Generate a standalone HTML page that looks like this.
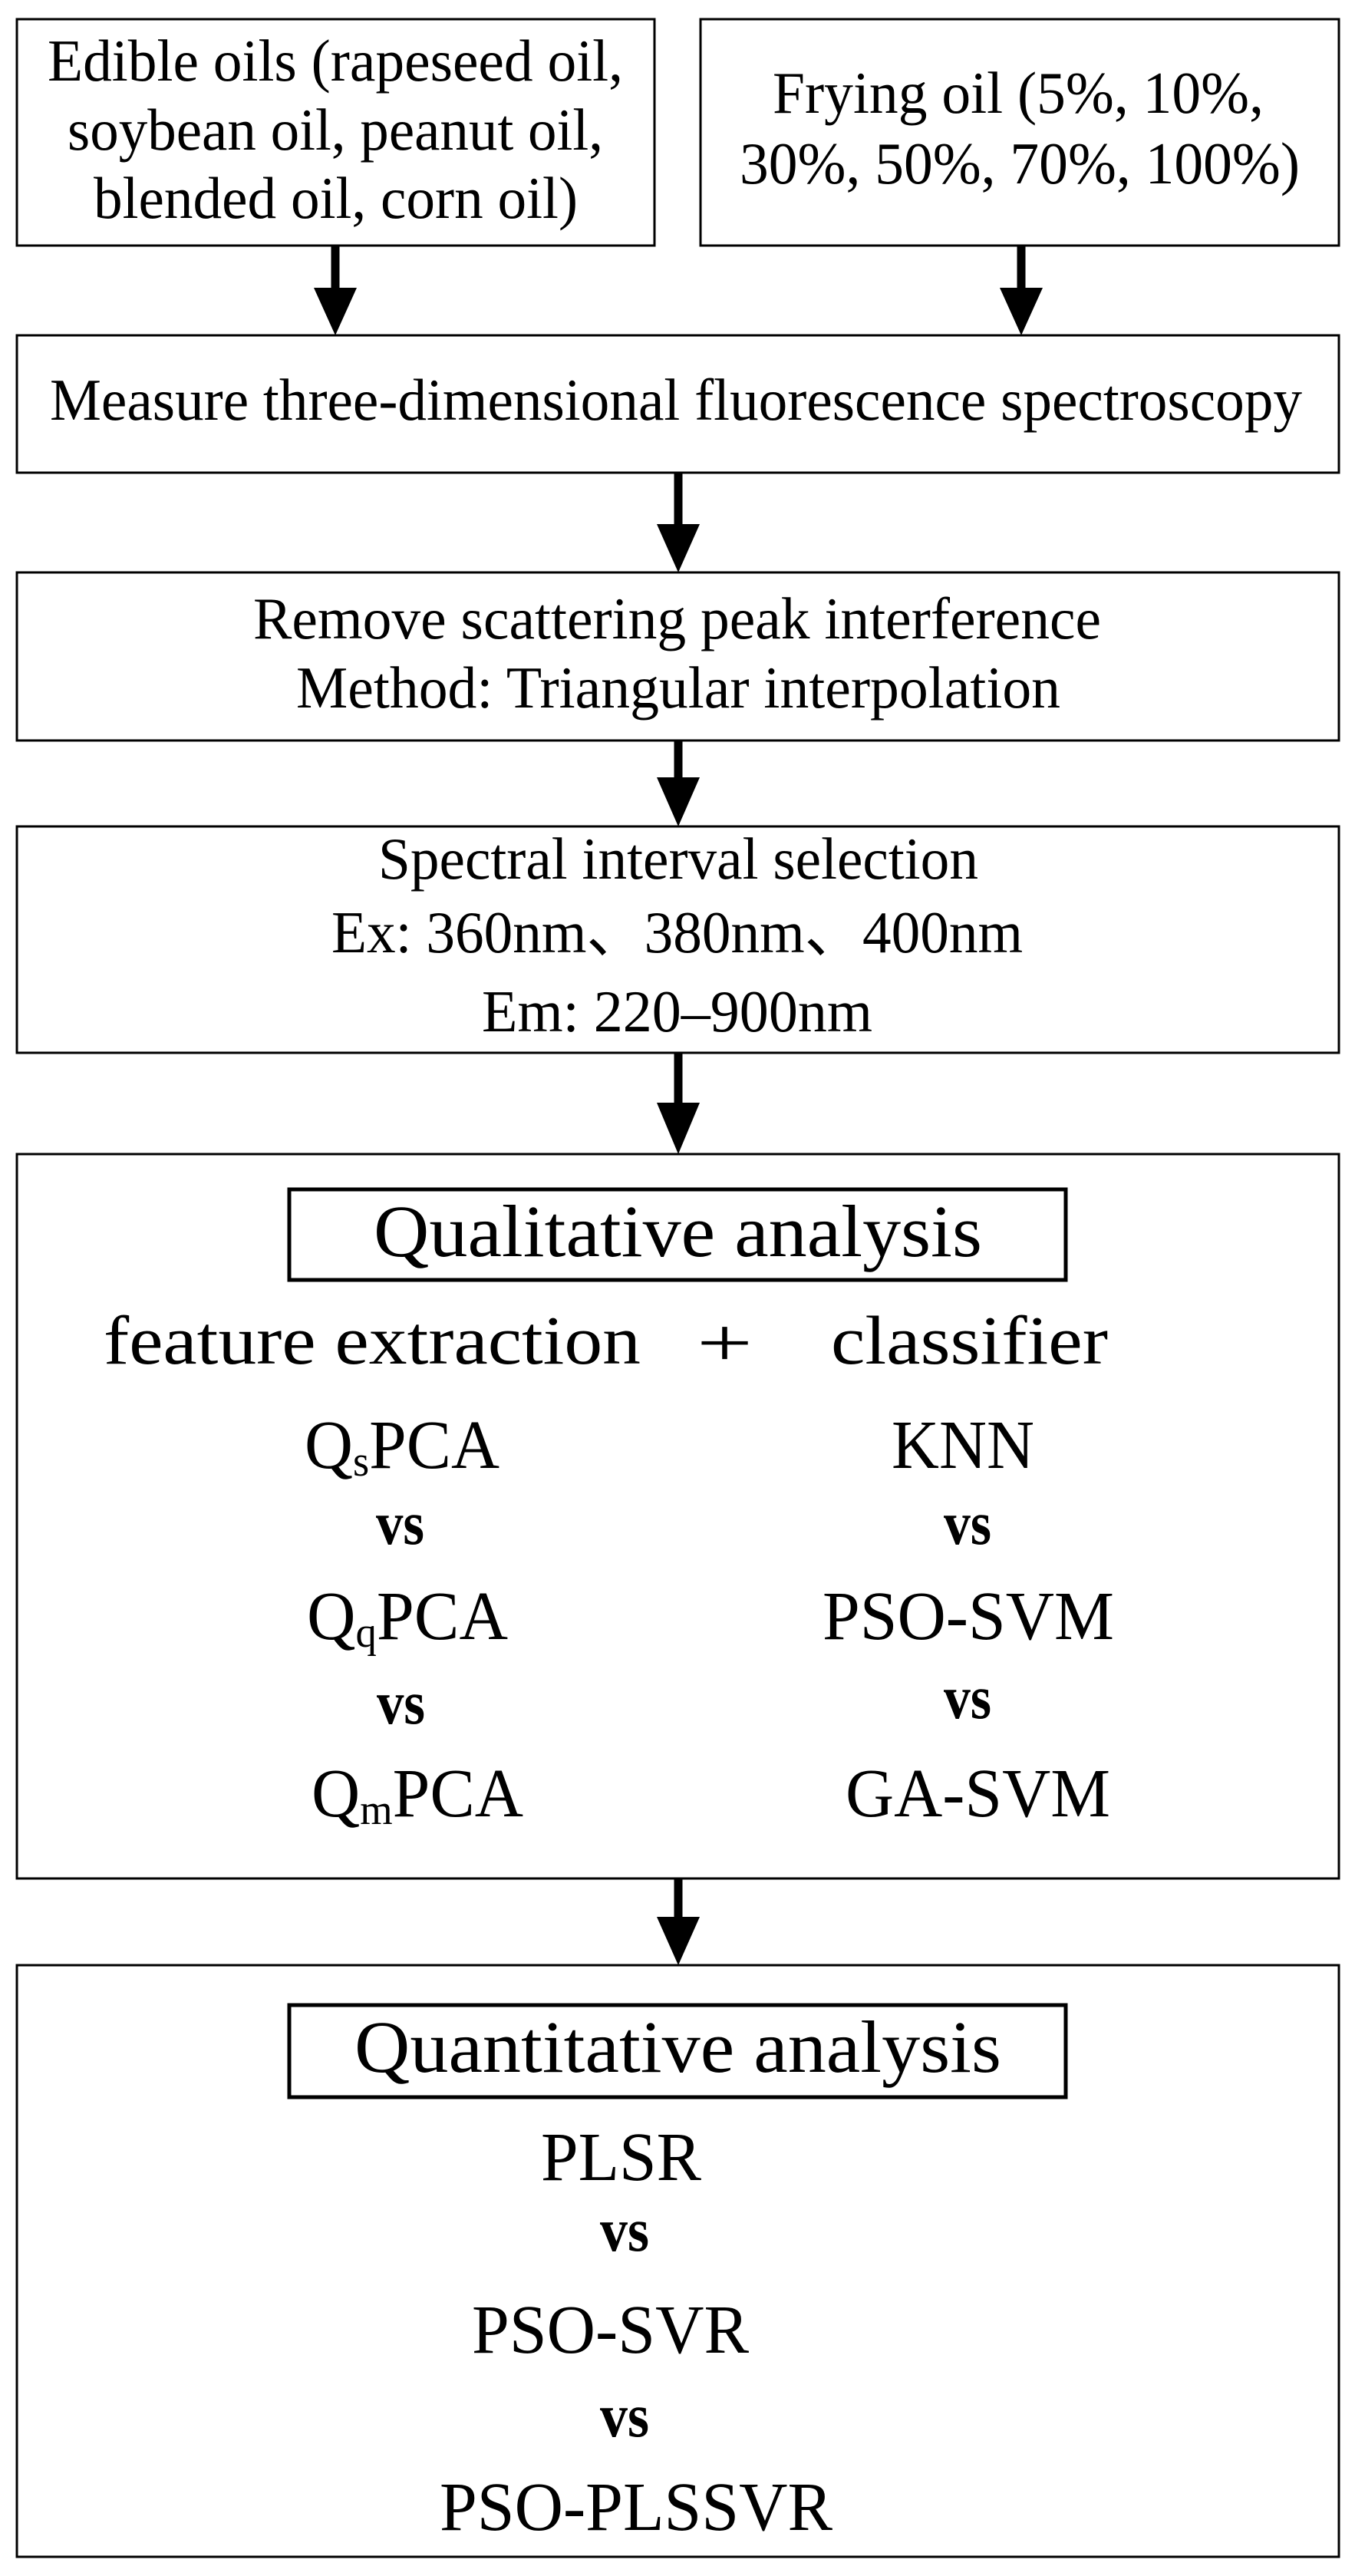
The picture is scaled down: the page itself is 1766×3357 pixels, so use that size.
<!DOCTYPE html>
<html><head><meta charset="utf-8"><style>html,body{margin:0;padding:0;background:#fff}svg{display:block}</style></head>
<body>
<svg width="1766" height="3357" viewBox="0 0 1766 3357" xmlns="http://www.w3.org/2000/svg" font-family="'Liberation Serif', serif" fill="#000">
<g fill="none" stroke="#000" stroke-width="3">
<rect x="22" y="25" width="831" height="295"/>
<rect x="913" y="25" width="832" height="295"/>
<rect x="22" y="437" width="1723" height="179"/>
<rect x="22" y="746" width="1723" height="219"/>
<rect x="22" y="1077" width="1723" height="295"/>
<rect x="22" y="1504" width="1723" height="944"/>
<rect x="377" y="1550" width="1012" height="118" stroke-width="5"/>
<rect x="22" y="2561" width="1723" height="771"/>
<rect x="377" y="2613" width="1012" height="120" stroke-width="5"/>
</g>
<g stroke="#000" stroke-width="11">
<line x1="437" y1="320" x2="437" y2="380"/>
<line x1="1331" y1="320" x2="1331" y2="380"/>
<line x1="884" y1="616" x2="884" y2="688"/>
<line x1="884" y1="965" x2="884" y2="1018"/>
<line x1="884" y1="1372" x2="884" y2="1442"/>
<line x1="884" y1="2448" x2="884" y2="2503"/>
</g>
<polygon points="409,375 465,375 437,437"/>
<polygon points="1303,375 1359,375 1331,437"/>
<polygon points="856,683 912,683 884,746"/>
<polygon points="856,1013 912,1013 884,1077"/>
<polygon points="856,1437 912,1437 884,1504"/>
<polygon points="856,2498 912,2498 884,2561"/>
<g font-size="77">
<text x="62" y="105" textLength="750" lengthAdjust="spacingAndGlyphs">Edible oils (rapeseed oil,</text>
<text x="88" y="195" textLength="698" lengthAdjust="spacingAndGlyphs">soybean oil, peanut oil,</text>
<text x="122" y="284" textLength="631" lengthAdjust="spacingAndGlyphs">blended oil, corn oil)</text>
<text x="1007" y="147" textLength="640" lengthAdjust="spacingAndGlyphs">Frying oil (5%, 10%,</text>
<text x="964" y="239" textLength="730" lengthAdjust="spacingAndGlyphs">30%, 50%, 70%, 100%)</text>
<text x="65" y="547" textLength="1632" lengthAdjust="spacingAndGlyphs">Measure three-dimensional fluorescence spectroscopy</text>
<text x="330" y="832" textLength="1105" lengthAdjust="spacingAndGlyphs">Remove scattering peak interference</text>
<text x="386" y="922" textLength="996" lengthAdjust="spacingAndGlyphs">Method: Triangular interpolation</text>
<text x="493" y="1145" textLength="782" lengthAdjust="spacingAndGlyphs">Spectral interval selection</text>
<text x="432" y="1241" textLength="901" lengthAdjust="spacingAndGlyphs">Ex: 360nm、380nm、400nm</text>
<text x="628" y="1344" textLength="509" lengthAdjust="spacingAndGlyphs">Em: 220–900nm</text>
</g>
<text x="487" y="1637" font-size="96" textLength="793" lengthAdjust="spacingAndGlyphs">Qualitative analysis</text>
<text x="135" y="1777" font-size="90" textLength="700" lengthAdjust="spacingAndGlyphs">feature extraction</text>
<text x="908" y="1780" font-size="90" textLength="73" lengthAdjust="spacingAndGlyphs">+</text>
<text x="1083" y="1777" font-size="90" textLength="361" lengthAdjust="spacingAndGlyphs">classifier</text>
<g font-size="90">
<text x="397" y="1913" textLength="254" lengthAdjust="spacingAndGlyphs">Q<tspan font-size="56" dy="10">s</tspan><tspan dy="-10">PCA</tspan></text>
<text x="1162" y="1913" textLength="186" lengthAdjust="spacingAndGlyphs">KNN</text>
<text x="400" y="2136" textLength="262" lengthAdjust="spacingAndGlyphs">Q<tspan font-size="56" dy="10">q</tspan><tspan dy="-10">PCA</tspan></text>
<text x="1072" y="2136" textLength="380" lengthAdjust="spacingAndGlyphs">PSO-SVM</text>
<text x="406" y="2367" textLength="276" lengthAdjust="spacingAndGlyphs">Q<tspan font-size="56" dy="10">m</tspan><tspan dy="-10">PCA</tspan></text>
<text x="1102" y="2367" textLength="345" lengthAdjust="spacingAndGlyphs">GA-SVM</text>
<text x="705" y="2841" textLength="209" lengthAdjust="spacingAndGlyphs">PLSR</text>
<text x="615" y="3066" textLength="361" lengthAdjust="spacingAndGlyphs">PSO-SVR</text>
<text x="573" y="3297" textLength="512" lengthAdjust="spacingAndGlyphs">PSO-PLSSVR</text>
</g>
<text x="462" y="2700" font-size="96" textLength="843" lengthAdjust="spacingAndGlyphs">Quantitative analysis</text>
<g font-size="80" font-weight="bold">
<text x="490" y="2012" textLength="63" lengthAdjust="spacingAndGlyphs">vs</text>
<text x="1230" y="2012" textLength="62" lengthAdjust="spacingAndGlyphs">vs</text>
<text x="491" y="2246" textLength="63" lengthAdjust="spacingAndGlyphs">vs</text>
<text x="1230" y="2239" textLength="62" lengthAdjust="spacingAndGlyphs">vs</text>
<text x="782" y="2933" textLength="64" lengthAdjust="spacingAndGlyphs">vs</text>
<text x="782" y="3175" textLength="64" lengthAdjust="spacingAndGlyphs">vs</text>
</g>
</svg>
</body></html>
